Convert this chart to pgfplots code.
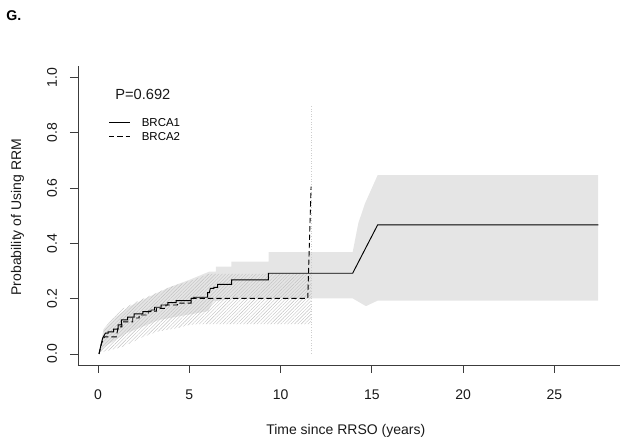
\documentclass[border=0pt]{standalone}
\usepackage{pgfplots}
\pgfplotsset{compat=1.18}
\usepackage{fontspec}
\setmainfont{Liberation Sans}
\usetikzlibrary{patterns.meta}
\definecolor{band}{RGB}{229,229,229}
\definecolor{hatch}{RGB}{192,192,192}
\definecolor{vline}{RGB}{205,205,205}
\definecolor{axc}{RGB}{60,60,60}
\begin{document}
\begin{tikzpicture}[x=1pt,y=1pt]
\path (0,0) rectangle (468,331.5);
\node[anchor=base west, font=\bfseries\fontsize{10.6}{12}\selectfont, inner sep=0pt] at (4.5,316) {G.};
\begin{axis}[
  at={(58.5pt,57.75pt)}, anchor=south west,
  width=406.5pt, height=223.875pt, scale only axis,
  xmin=-1.1, xmax=28.6, ymin=-0.04, ymax=1.04,
  axis x line*=bottom, axis y line*=left,
  axis line style={axc, line width=0.6pt},
  xtick={0,5,10,15,20,25}, xticklabels={0,5,10,15,20,25},
  ytick={0,0.2,0.4,0.6,0.8,1.0}, yticklabels={0.0,0.2,0.4,0.6,0.8,1.0},
  tick align=outside, major tick length=6pt,
  tick style={axc, line width=0.6pt},
  /pgf/number format/assume math mode=true,
  tick label style={font=\fontsize{10.5}{12}\selectfont, text=black!90},
  xticklabel style={anchor=north, inner sep=0pt, yshift=-12.5pt},
  yticklabel style={xshift=-9.5pt, rotate=90, anchor=south, inner sep=0pt},
  xlabel={Time since RRSO (years)},
  xlabel style={at={(axis description cs:0.494,-0.2345)}, anchor=base, inner sep=0pt, font=\fontsize{10.5}{12}\selectfont, text=black!90},
  ylabel={Probability of Using RRM},
  ylabel style={at={(axis description cs:-0.105,0.495)}, anchor=base, inner sep=0pt, font=\fontsize{10.5}{12}\selectfont, text=black!90},
  legend style={draw=none, fill=none, at={(axis description cs:0.0559,0.827)}, anchor=north west,
    font=\fontsize{8.6}{10}\selectfont, inner sep=0pt, row sep=4.2pt, column sep=8.5pt,
    nodes={inner sep=0pt, text height=6.3pt, text depth=0pt}},
  legend cell align=left,
  legend image code/.code={\draw[#1] (0pt,0pt) -- (15.75pt,0pt);},
]
% BRCA1 confidence band
\addplot[forget plot, draw=none, fill=band] coordinates {
(0.05,0) (0.3,0.09) (0.45,0.099) (1.0,0.135) (1.7,0.171) (2.8,0.207) (3.9,0.241) (5.0,0.268) (6.1,0.298)
(6.45,0.298) (6.45,0.316) (7.3,0.316) (7.3,0.334) (9.35,0.334) (9.35,0.368) (13.95,0.368)
(14.26,0.473) (14.63,0.545) (15.32,0.647) (27.4,0.647)
(27.4,0.193) (15.32,0.193) (14.68,0.173) (13.95,0.201) (7.35,0.200) (6.3,0.19) (6.05,0.155)
(4.85,0.141) (3.35,0.123) (1.55,0.075) (0.35,0.026) (0.05,0)
} -- cycle;
% BRCA2 confidence band (hatched)
\addplot[forget plot, draw=none, pattern={Lines[angle=45,distance=1.8pt,line width=0.3pt]}, pattern color=hatch] coordinates {
(0.05,0) (0.35,0.094) (1.2,0.159) (2.3,0.195) (3.9,0.241) (5.2,0.268) (6.1,0.29) (11.67,0.29)
(11.67,0.108) (5.55,0.108) (5.0,0.105) (4.3,0.093) (3.2,0.08) (2.3,0.057) (1.38,0.026) (0.3,0.008) (0.05,0)
} -- cycle;
% BRCA2 last-interval CI
\addplot[forget plot, color=vline, line width=0.5pt, dash pattern=on 0.75pt off 1.2pt] coordinates {(11.67,0) (11.67,0.9)};
% BRCA1
\addplot[black, line width=0.7pt] coordinates {
(0.05,0) (0.15,0.03) (0.25,0.057) (0.4,0.075)
(0.55,0.075)(0.55,0.08)(0.85,0.08)(0.85,0.09)(1.1,0.09)(1.1,0.105)(1.28,0.105)(1.28,0.123)
(1.62,0.123)(1.62,0.133)(1.98,0.133)(1.98,0.145)(2.45,0.145)(2.45,0.153)(2.9,0.153)(2.9,0.159)
(3.1,0.159)(3.1,0.169)(3.45,0.169)(3.45,0.177)(3.82,0.177)(3.82,0.186)(4.28,0.186)(4.28,0.193)
(5.1,0.193)(5.1,0.201)(5.25,0.201)(5.25,0.205)(6.0,0.205)(6.0,0.222)(6.1,0.222)(6.15,0.237)
(6.35,0.237)(6.35,0.241)(6.55,0.241)(6.55,0.252)(7.32,0.252)(7.32,0.268)(9.33,0.268)(9.33,0.292)
(13.95,0.292)(15.32,0.467)(27.42,0.467)
};
\addlegendentry{BRCA1}
% BRCA2
\addplot[black, line width=0.7pt, dash pattern=on 4pt off 2.25pt] coordinates {
(0.05,0)(0.2,0.04)(0.35,0.062)(1.0,0.062)(1.05,0.08)(1.1,0.098)(1.3,0.098)(1.3,0.116)(1.9,0.116)
(1.9,0.13)(2.25,0.13)(2.25,0.141)(2.75,0.141)(2.75,0.155)(3.2,0.155)(3.2,0.165)(3.72,0.165)
(3.72,0.177)(4.35,0.177)(4.35,0.184)(5.1,0.184)(5.1,0.201)(11.49,0.201)(11.67,0.605)
};
\addlegendentry{BRCA2}
\node[anchor=base west, font=\fontsize{11}{13}\selectfont, inner sep=0pt, text=black!90] at (axis description cs:0.0683,0.891) {P=0.692};
\end{axis}
\end{tikzpicture}
\end{document}
